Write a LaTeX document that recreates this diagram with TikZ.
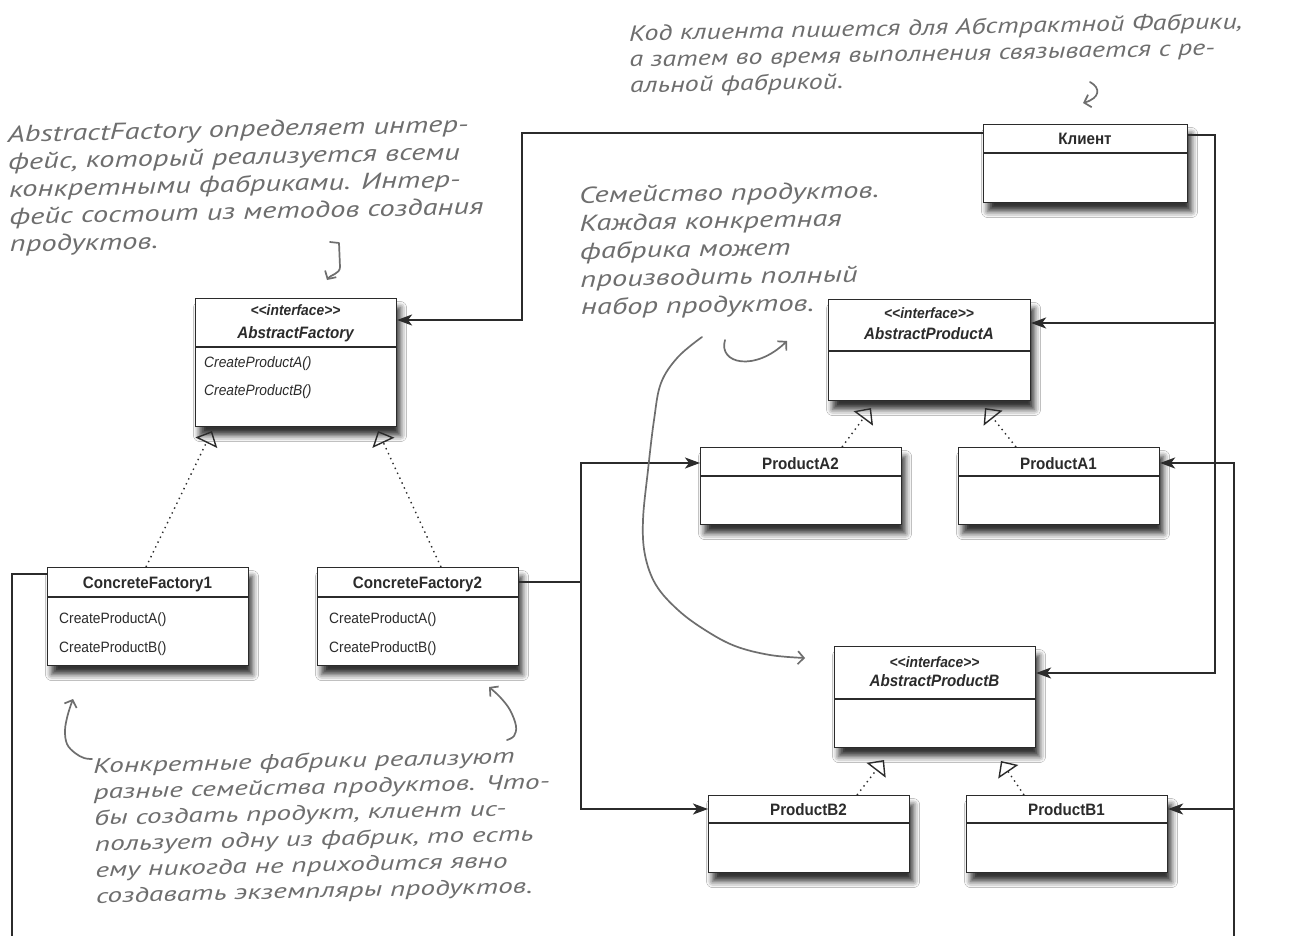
\documentclass[tikz,border=0pt]{standalone}
\usepackage{fontspec}
\setmainfont{Liberation Sans}
\newfontfamily\umlfont[FakeStretch=0.92]{Liberation Sans}
\newfontfamily\handfont[FakeStretch=1.33]{PT Sans}
\newfontfamily\handfontb[FakeStretch=1.28]{PT Sans}
\newfontfamily\handfontc[FakeStretch=1.40]{PT Sans}
\usetikzlibrary{arrows.meta,shadows.blur}
\definecolor{handgray}{HTML}{6E6E6E}
\definecolor{ink}{HTML}{2B2B2B}
\newcommand\umlclass[6]{%
  \pgfmathsetmacro\ucw{#4-#2}\pgfmathsetmacro\uch{#5-#3}%
  \node[umlbox, minimum width=\ucw pt, minimum height=\uch pt, anchor=north west] (#1) at (#2,#3) {};
  \draw[sepline] (#2,#6) -- (#4,#6);}
\begin{document}
\begin{tikzpicture}[x=1pt,y=-1pt,
  umlbox/.style={draw=ink, line width=1.1pt, fill=white, rectangle, inner sep=0pt,
    blur shadow={shadow xshift=4pt, shadow yshift=-9pt, shadow opacity=80, shadow blur radius=6pt}},
  sepline/.style={draw=ink, line width=1.1pt},
  umltitle/.style={font=\umlfont\bfseries\fontsize{16.5}{18}\selectfont, inner sep=0pt, anchor=base, text=ink},
  umlstereo/.style={font=\umlfont\bfseries\itshape\fontsize{15}{17}\selectfont, inner sep=0pt, anchor=base, text=ink},
  umlname/.style={font=\umlfont\bfseries\itshape\fontsize{16.5}{18}\selectfont, inner sep=0pt, anchor=base, text=ink},
  umlmeth/.style={font=\umlfont\fontsize{15}{17}\selectfont, inner sep=0pt, anchor=base west, text=ink},
  umlmethit/.style={font=\umlfont\itshape\fontsize{15}{17}\selectfont, inner sep=0pt, anchor=base west, text=ink},
  conn/.style={draw=ink, line width=1.7pt, line join=miter, -{Stealth[length=15pt,width=11pt,inset=4pt]}},
  plainconn/.style={draw=ink, line width=1.7pt, line join=miter},
  real/.style={draw=ink, line width=1.4pt, dash pattern=on 1.4pt off 4pt, -{Triangle[open,length=13pt,width=24pt]}},
  hand/.style={text=handgray, inner sep=0pt, align=left, anchor=base west},
  handline/.style={draw=handgray, line width=1.7pt, line cap=round, line join=round, -{Straight Barb[length=6pt,width=13pt]}}
]
\useasboundingbox (0,0) rectangle (1295,936);
\fill[white] (0,0) rectangle (1295,936);

% ---------- classes ----------
\umlclass{client}{983}{124}{1187}{202}{153}
\node[umltitle] (client-t) at (1085,145) {Клиент};

\umlclass{af}{195}{298}{396}{426}{347}
\node[umlstereo] (af-s) at (295.5,315) {<<interface>>};
\node[umlname] (af-n) at (295.5,338) {AbstractFactory};
\node[umlmethit] (af-m1) at (204,367) {CreateProductA()};
\node[umlmethit] (af-m2) at (204,395) {CreateProductB()};

\umlclass{apa}{828}{299}{1030}{400}{351}
\node[umlstereo] (apa-s) at (929,318) {<<interface>>};
\node[umlname] (apa-n) at (929,339) {AbstractProductA};

\umlclass{pa2}{700}{447}{901}{524}{476}
\node[umltitle] (pa2-t) at (800.5,469) {ProductA2};
\umlclass{pa1}{958}{447}{1159}{524}{476}
\node[umltitle] (pa1-t) at (1058.5,469) {ProductA1};

\umlclass{cf1}{47}{567}{248}{665}{597}
\node[umltitle] (cf1-t) at (147.5,588) {ConcreteFactory1};
\node[umlmeth] (cf1-m1) at (59,623) {CreateProductA()};
\node[umlmeth] (cf1-m2) at (59,652) {CreateProductB()};

\umlclass{cf2}{317}{567}{518}{665}{597}
\node[umltitle] (cf2-t) at (417.5,588) {ConcreteFactory2};
\node[umlmeth] (cf2-m1) at (329,623) {CreateProductA()};
\node[umlmeth] (cf2-m2) at (329,652) {CreateProductB()};

\umlclass{apb}{834}{646}{1035}{747}{699}
\node[umlstereo] (apb-s) at (934.5,667) {<<interface>>};
\node[umlname] (apb-n) at (934.5,686) {AbstractProductB};

\umlclass{pb2}{708}{795}{909}{872}{823}
\node[umltitle] (pb2-t) at (808.5,815) {ProductB2};
\umlclass{pb1}{966}{795}{1167}{872}{823}
\node[umltitle] (pb1-t) at (1066.5,815) {ProductB1};

% ---------- association connectors ----------
\coordinate (c1) at (522,133);
\coordinate (c2) at (522,320);
\draw[conn] (client.west |- c1) -- (c1) -- (c2) -- (af.east |- c2);

\coordinate (r1) at (1215,135);
\coordinate (r2) at (1215,323);
\coordinate (r3) at (1215,673);
\draw[conn] (client.east |- r1) -- (r1) -- (r3) -- (apb.east |- r3);
\draw[conn] (r2) -- (apa.east |- r2);

\coordinate (f1) at (581,582);
\coordinate (f2) at (581,463);
\coordinate (f3) at (581,809);
\draw[plainconn] (cf2.east |- f1) -- (f1);
\draw[conn] (f1) -- (f2) -- (pa2.west |- f2);
\draw[conn] (f1) -- (f3) -- (pb2.west |- f3);

\begin{scope}
\clip (0,0) rectangle (1295,936);
\coordinate (g1) at (12,574);
\coordinate (g2) at (12,960);
\coordinate (g3) at (1234,960);
\coordinate (g4) at (1234,463);
\coordinate (g5) at (1234,809);
\draw[conn] (cf1.west |- g1) -- (g1) -- (g2) -- (g3) -- (g4) -- (pa1.east |- g4);
\draw[conn] (g5) -- (pb1.east |- g5);
\end{scope}

% ---------- realization connectors ----------
\coordinate (s1) at (146,0);  \coordinate (t1) at (212,431);
\coordinate (s2) at (441,0);  \coordinate (t2) at (378,431);
\coordinate (s3) at (842,0);  \coordinate (t3) at (871,408);
\coordinate (s4) at (1016,0); \coordinate (t4) at (985,408);
\coordinate (s5) at (857,0);  \coordinate (t5) at (884,760);
\coordinate (s6) at (1024,0); \coordinate (t6) at (1001,761);
\draw[real] (cf1.north -| s1) -- (t1);
\draw[real] (cf2.north -| s2) -- (t2);
\draw[real] (pa2.north -| s3) -- (t3);
\draw[real] (pa1.north -| s4) -- (t4);
\draw[real] (pb2.north -| s5) -- (t5);
\draw[real] (pb1.north -| s6) -- (t6);

% ---------- annotations (anchor = baseline of the last line) ----------
\node[hand, rotate=1.15, font=\handfontb\itshape\fontsize{22}{26}\selectfont] (note-client) at (630,93)
  {Код клиента пишется для Абстрактной Фабрики,\\а затем во время выполнения связывается с ре-\\альной фабрикой.};
\draw[handline] (1090,82) .. controls (1101,88) and (1100,98) .. (1083,103);

\node[hand, rotate=1.25, font=\handfont\itshape\fontsize{23}{27.5}\selectfont] (note-af) at (10,252)
  {AbstractFactory определяет интер-\\фейс, который реализуется всеми\\конкретными фабриками. Интер-\\фейс состоит из методов создания\\продуктов.};
\draw[handline] (330,242) -- (339,243) -- (340,267) .. controls (340,274) and (330,275) .. (327,280);

\node[hand, rotate=1, font=\handfont\itshape\fontsize{23}{28}\selectfont] (note-family) at (581,315)
  {Семейство продуктов.\\Каждая конкретная\\фабрика может\\производить полный\\набор продуктов.};
\draw[handline] (725,340) .. controls (718,364) and (755,372) .. (787,341);
\draw[handline] plot[smooth, tension=0.6] coordinates {(702,337) (678,357) (661,383) (654,420) (648,470) (643,520) (645,555) (656,585) (678,610) (705,630) (735,646) (770,655) (805,658)};

\node[hand, rotate=1.3, font=\handfontc\itshape\fontsize{21}{26}\selectfont] (note-concrete) at (96,903)
  {Конкретные фабрики реализуют\\разные семейства продуктов. Что-\\бы создать продукт, клиент ис-\\пользует одну из фабрик, то есть\\ему никогда не приходится явно\\создавать экземпляры продуктов.};
\draw[handline] plot[smooth, tension=0.6] coordinates {(92,759) (84,758) (75,753) (67,744) (65,730) (68,714) (73,699)};
\draw[handline] plot[smooth, tension=0.6] coordinates {(507,740) (514,736) (516,726) (510,710) (500,697) (489,687)};
\end{tikzpicture}
\end{document}
